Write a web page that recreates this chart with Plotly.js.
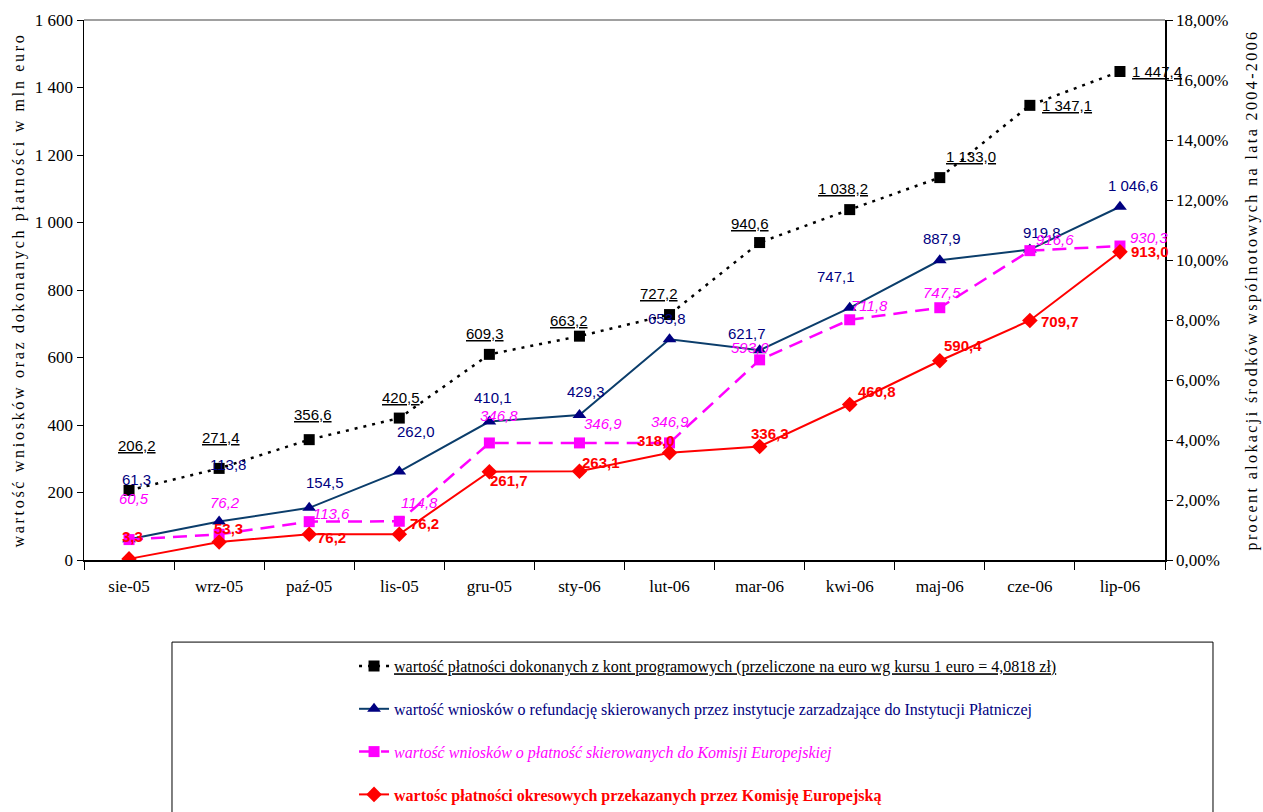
<!DOCTYPE html>
<html>
<head>
<meta charset="utf-8">
<script src="https://cdn.plot.ly/plotly-3.0.1.min.js"></script>
<style>html,body{margin:0;padding:0;background:#fff;}#chart{width:1263px;height:812px;}</style>
</head>
<body>
<div id="chart"></div>
<script>
// ---- data ----
const categories = ["sie-05","wrz-05","paź-05","lis-05","gru-05","sty-06","lut-06","mar-06","kwi-06","maj-06","cze-06","lip-06"];
const platnosciKont = [206.2, 271.4, 356.6, 420.5, 609.3, 663.2, 727.2, 940.6, 1038.2, 1133.0, 1347.1, 1447.4];
const wnioskiRefundacja = [61.3, 113.8, 154.5, 262.0, 410.1, 429.3, 653.8, 621.7, 747.1, 887.9, 919.8, 1046.6];
const wnioskiKomisja = [60.5, 76.2, 113.6, 114.8, 346.8, 346.9, 346.9, 593.0, 711.8, 747.5, 916.6, 930.3];
const platnosciOkresowe = [3.3, 53.3, 76.2, 76.2, 261.7, 263.1, 318.0, 336.3, 460.8, 590.4, 709.7, 913.0];

const seriesNames = [
  "wartość płatności dokonanych z kont programowych (przeliczone na euro wg kursu 1 euro = 4,0818 zł)",
  "wartość wniosków o refundację skierowanych przez instytucje zarzadzające do Instytucji Płatniczej",
  "wartość wniosków o płatność skierowanych do Komisji Europejskiej",
  "wartośc płatności okresowych przekazanych przez Komisję Europejską"
];
const leftTitle = "wartość wniosków oraz dokonanych płatności w mln euro";
const rightTitle = "procent alokacji środków wspólnotowych na lata 2004-2006";

// ---- label offsets (pixels, style only) ----
const offBlack = [[8,45],[2,31],[4,25],[2,21],[-4,21],[-10,16],[-11,21],[-10,19],[-7,21],[31,21],[37,0],[37,0]];
const offBlue  = [[7,60],[9,57],[16,25],[17,40],[4,24],[7,24],[-3,21],[-13,17],[-14,31],[2,22],[12,17],[13,21]];
const offMag   = [[5,41],[6,32],[22,8],[20,19],[10,27],[24,19],[0,21],[-10,12],[20,14],[2,15],[25,11],[29,9]];
const offRed   = [[3,22],[9,14],[22,-3],[25,11],[20,-9],[22,9],[-14,12],[10,13],[27,13],[23,15],[30,-1],[30,0]];

function fmt(v){
  const s = v.toFixed(1).split('.');
  const intp = s[0].replace(/\B(?=(\d{3})+(?!\d))/g, ' ');
  return intp + ',' + s[1];
}

const BLUE_LINE = '#0b3d6b', NAVY = '#000080', MAG = '#ff00ff', RED = '#ff0000';

const traces = [
  {x: categories, y: platnosciKont, type:'scatter', mode:'lines+markers',
   name: '<u>' + seriesNames[0] + '</u>', legendgroup:'a',
   line:{color:'#000', width:2.5, dash:'3px,6px'}, marker:{symbol:'square', size:11, color:'#000'}},
  {x: categories, y: wnioskiRefundacja, type:'scatter', mode:'lines+markers',
   name: '<span style="color:'+NAVY+'">' + seriesNames[1] + '</span>', legendgroup:'b',
   line:{color:BLUE_LINE, width:2}, marker:{symbol:'triangle-up', size:12, color:NAVY}},
  {x: categories, y: wnioskiKomisja, type:'scatter', mode:'lines+markers',
   name: '<i><span style="color:'+MAG+'">' + seriesNames[2] + '</span></i>', legendgroup:'c',
   line:{color:MAG, width:2.5, dash:'14px,8px'}, marker:{symbol:'square', size:11, color:MAG}},
  {x: categories, y: platnosciOkresowe, type:'scatter', mode:'lines+markers',
   name: '<b><span style="color:'+RED+'">' + seriesNames[3] + '</span></b>', legendgroup:'d',
   line:{color:RED, width:2}, marker:{symbol:'diamond', size:12, color:RED}},
  // empty trace so that the right-hand percentage axis is drawn
  {x: [], y: [], type:'scatter', mode:'lines', yaxis:'y2', showlegend:false, hoverinfo:'skip'}
];

const annotations = [];
function addLabels(vals, offs, font, wrap){
  vals.forEach((v,i)=>{
    annotations.push({x: categories[i], y: v, xref:'x', yref:'y', showarrow:false,
      text: wrap(fmt(v)), xshift: offs[i][0], yshift: offs[i][1], font: font});
  });
}
const lblFont = 'Liberation Sans, Arial, sans-serif';
addLabels(platnosciKont, offBlack, {family:lblFont, size:15, color:'#000'}, t=>'<u>'+t+'</u>');
addLabels(wnioskiRefundacja, offBlue, {family:lblFont, size:15, color:NAVY}, t=>t);
addLabels(wnioskiKomisja, offMag, {family:lblFont, size:15, color:MAG}, t=>'<i>'+t+'</i>');
addLabels(platnosciOkresowe, offRed, {family:lblFont, size:15, color:RED}, t=>'<b>'+t+'</b>');

const serif = 'Liberation Serif, Times New Roman, serif';

const layout = {
  width:1263, height:812,
  margin:{l:84, r:98, t:20, b:252, autoexpand:false},
  paper_bgcolor:'#fff', plot_bgcolor:'#fff',
  separators:', ',
  font:{family:serif, size:16, color:'#000'},
  showlegend:true,
  hovermode:false,
  xaxis:{type:'category', range:[-0.5,11.5], showline:true, linecolor:'#000', linewidth:1.5,
    ticks:'outside', tickson:'boundaries', ticklen:8, tickcolor:'#000', showgrid:false, zeroline:false,
    tickfont:{family:serif, size:17, color:'#000'}, ticklabelstandoff:10},
  yaxis:{range:[0,1600], dtick:200, showline:true, linecolor:'#000', linewidth:1.5, ticks:'outside', ticklen:6,
    tickcolor:'#000', showgrid:false, zeroline:false, separatethousands:true, tickformat:',d',
    tickfont:{family:serif, size:17, color:'#000'},
    title:{text:'<span style="letter-spacing:2.7px">'+leftTitle+'</span>', font:{family:serif, size:16, color:'#000'}, standoff:6}},
  yaxis2:{range:[0,0.18], dtick:0.02, tickformat:'.2%', overlaying:'y', side:'right', anchor:'x',
    showline:true, linecolor:'#000', linewidth:1.5, ticks:'outside', ticklen:6, tickcolor:'#000',
    showgrid:false, zeroline:false, tickfont:{family:serif, size:17, color:'#000'},
    title:{text:'<span style="letter-spacing:2.4px">'+rightTitle+'</span>', font:{family:serif, size:16, color:'#000'}, standoff:18}},
  legend:{x:0.2498, y:-0.165, xanchor:'left', yanchor:'top', bgcolor:'rgba(0,0,0,0)', borderwidth:0,
    font:{family:serif, size:16, color:'#000'}, tracegroupgap:19, traceorder:'grouped'},
  shapes:[
    {type:'line', xref:'paper', yref:'paper', x0:0, x1:1, y0:1, y1:1, line:{color:'#808080', width:1.5}},
    {type:'rect', xref:'paper', yref:'paper', x0:0.0814, x1:1.0444, y0:-0.152, y1:-0.6, line:{color:'#000', width:1}}
  ],
  annotations: annotations
};

Plotly.newPlot('chart', traces, layout, {displayModeBar:false, staticPlot:true});
</script>
</body>
</html>
